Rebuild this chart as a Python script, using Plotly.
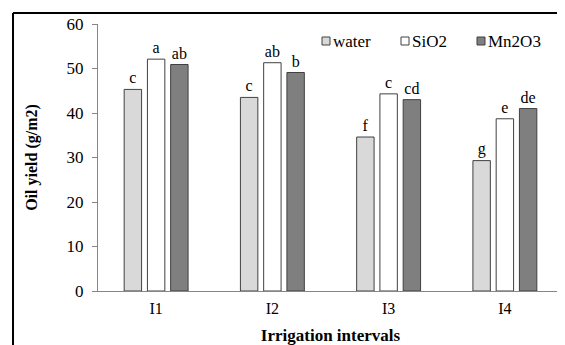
import plotly.graph_objects as go

categories = ["I1", "I2", "I3", "I4"]
water = [45.3, 43.5, 34.6, 29.3]
sio2 = [52.1, 51.3, 44.3, 38.7]
mn2o3 = [50.9, 49.1, 43.0, 41.0]
water_letters = ["c", "c", "f", "g"]
sio2_letters = ["a", "ab", "c", "e"]
mn2o3_letters = ["ab", "b", "cd", "de"]
series_names = ["water", "SiO2", "Mn2O3"]
series_colors = ["#d9d9d9", "#ffffff", "#7f7f7f"]

FONT = "Liberation Serif"
OFF = 8  # default page body margin offsets the figure by 8px
W, H = 565 - OFF, 345 - OFF
ML, MR, MT, MB = 98 - OFF, 2, 24 - OFF, 54
PW, PH = W - ML - MR, H - MT - MB


def px(x):
    """Screen x (reference pixels) -> paper coordinate."""
    return (x - OFF - ML) / PW


def py(y):
    """Screen y (reference pixels) -> paper coordinate."""
    return (H - MB - (y - OFF)) / PH


outline = dict(color="#404040", width=1)

fig = go.Figure()
for name, vals, letters, color in zip(series_names, [water, sio2, mn2o3],
                                      [water_letters, sio2_letters, mn2o3_letters],
                                      series_colors):
    fig.add_trace(go.Bar(
        x=categories, y=vals, name=name, text=letters,
        textposition="outside", cliponaxis=False,
        textfont=dict(family=FONT, size=16, color="#000000"),
        marker=dict(color=color, line=outline),
        showlegend=False,
    ))

# manual legend (Excel-style: small square followed closely by text)
legend_x = [322, 401, 477]
shapes = []
annotations = []
for lx, name, color in zip(legend_x, series_names, series_colors):
    shapes.append(dict(type="rect", xref="paper", yref="paper",
                       x0=px(lx), x1=px(lx + 8), y0=py(45), y1=py(37),
                       fillcolor=color, line=dict(color="#404040", width=1)))
    annotations.append(dict(xref="paper", yref="paper", x=px(lx + 9), y=py(41),
                            xanchor="left", yanchor="middle", showarrow=False,
                            text=name, font=dict(family=FONT, size=17, color="#000000")))

# outer frame lines
shapes += [
    dict(type="line", xref="paper", yref="paper", x0=px(13), x1=px(700), y0=py(13), y1=py(13),
         line=dict(color="black", width=2)),
    dict(type="line", xref="paper", yref="paper", x0=px(13), x1=px(13), y0=py(13), y1=py(500),
         line=dict(color="black", width=2)),
]

fig.update_layout(
    width=W, height=H,
    margin=dict(l=ML, r=MR, t=MT, b=MB, autoexpand=False),
    paper_bgcolor="white", plot_bgcolor="white",
    barmode="group", bargap=0.4, bargroupgap=0.25,
    font=dict(family=FONT, size=15, color="#000000"),
    showlegend=False,
    xaxis=dict(showline=True, linecolor="#868686", linewidth=1, ticks="",
               showgrid=False, automargin=False, ticklabelstandoff=3,
               tickfont=dict(family=FONT, size=16, color="#000000"),
               title=dict(text="<b>Irrigation intervals</b>",
                          font=dict(family=FONT, size=17, color="#000000"), standoff=16)),
    yaxis=dict(range=[0, 60], dtick=10, showline=True, linecolor="#868686", linewidth=1,
               ticks="outside", ticklen=5, tickcolor="#868686", showgrid=False,
               zeroline=False, automargin=False, ticklabelstandoff=5,
               tickfont=dict(family=FONT, size=17, color="#000000"),
               title=dict(text="<b>Oil yield (g/m2)</b>",
                          font=dict(family=FONT, size=16, color="#000000"), standoff=24)),
    shapes=shapes,
    annotations=annotations,
)

fig.write_html("out.html")
